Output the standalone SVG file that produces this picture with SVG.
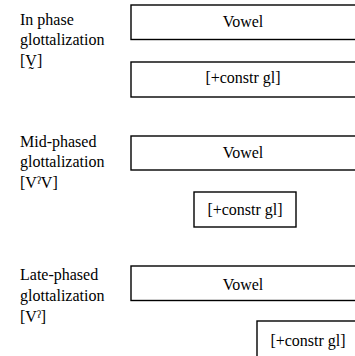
<svg xmlns="http://www.w3.org/2000/svg" width="355" height="356" viewBox="0 0 355 356" font-family="'Liberation Serif', 'DejaVu Serif', serif" font-size="16">
<style>
text{font-family:'Liberation Serif','DejaVu Serif',serif;font-size:16px;fill:#000}
.box{fill:#fff;stroke:#000;stroke-width:1.4}
.c{text-anchor:middle}
</style>
<rect x="0" y="0" width="355" height="356" fill="#fff"/>
<g id="label-inphase">
<text x="20" y="25">In phase</text>
<text x="20" y="45">glottalization</text>
<text x="20" y="66">[V̰]</text>
</g>
<g id="inphase-vowel">
<rect class="box" x="131" y="5" width="230" height="34.5"/>
<text class="c" x="243" y="27">Vowel</text>
</g>
<g id="inphase-constr">
<rect class="box" x="131" y="62" width="230" height="35"/>
<text class="c" x="243" y="83">[+constr gl]</text>
</g>
<g id="label-mid">
<text x="20" y="147">Mid-phased</text>
<text x="20" y="167">glottalization</text>
<text x="20" y="188">[VˀV]</text>
</g>
<g id="mid-vowel">
<rect class="box" x="131" y="136" width="230" height="34"/>
<text class="c" x="243" y="158">Vowel</text>
</g>
<g id="mid-constr">
<rect class="box" x="194" y="192" width="102" height="35"/>
<text class="c" x="245" y="215">[+constr gl]</text>
</g>
<g id="label-late">
<text x="20" y="280">Late-phased</text>
<text x="20" y="301">glottalization</text>
<text x="20" y="322">[Vˀ]</text>
</g>
<g id="late-vowel">
<rect class="box" x="131" y="266" width="230" height="34.5"/>
<text class="c" x="243" y="290">Vowel</text>
</g>
<g id="late-constr">
<rect class="box" x="257" y="321" width="103" height="40"/>
<text class="c" x="308" y="346">[+constr gl]</text>
</g>
</svg>
